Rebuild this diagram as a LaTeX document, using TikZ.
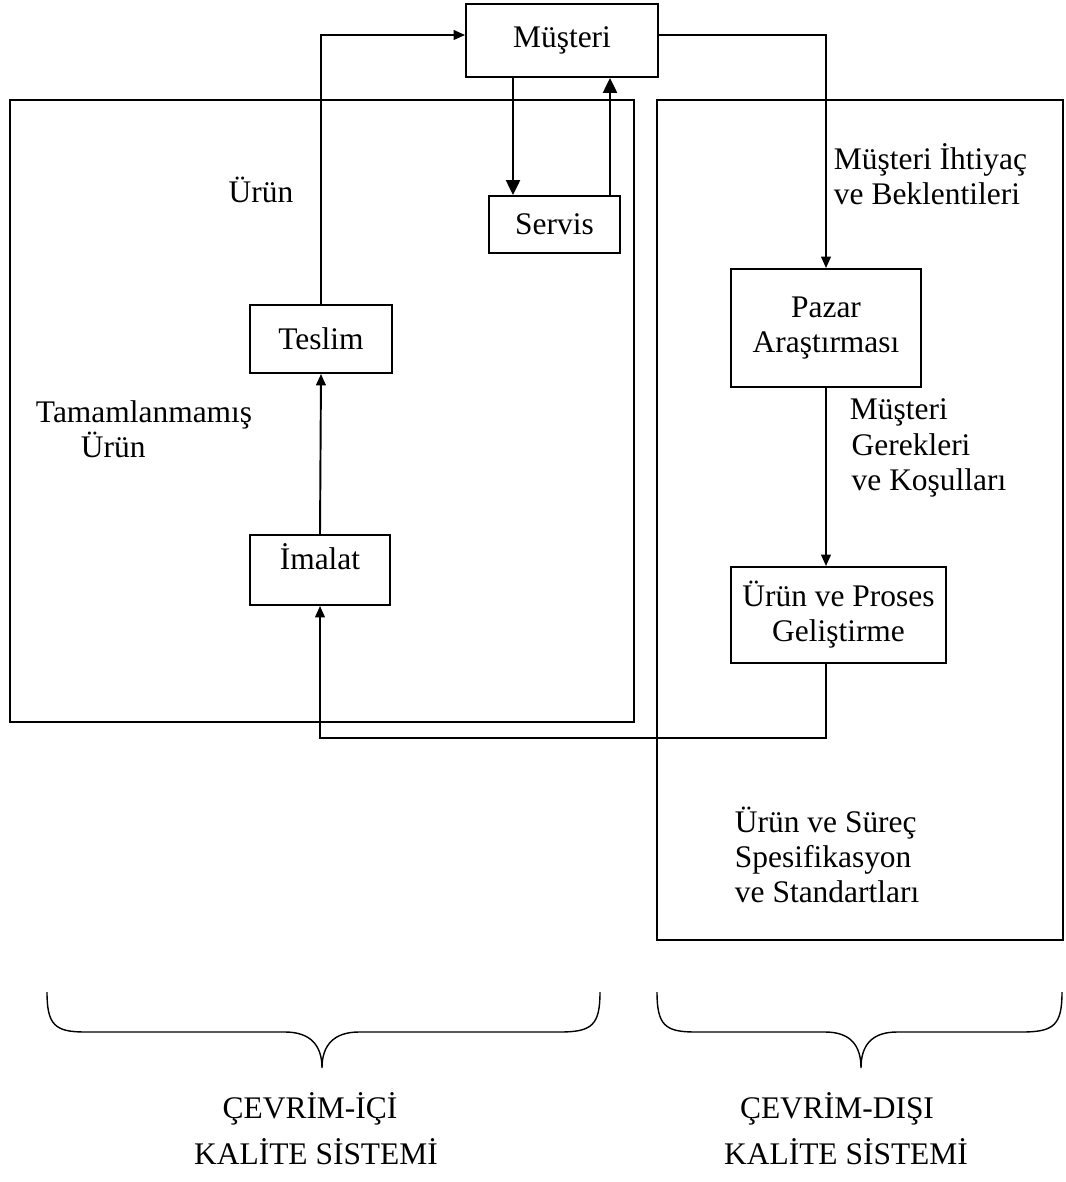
\documentclass[tikz,border=0pt]{standalone}
\usepackage{fontspec}
\setmainfont{Liberation Serif}
\usetikzlibrary{arrows.meta}

\begin{document}
\begin{tikzpicture}[x=0.02cm, y=-0.02cm, >={Triangle[width=5.5pt,length=6.5pt]},
    line width=1.1pt,
    font=\fontsize{17.9}{20}\selectfont,
    box/.style={draw, align=center, inner sep=0pt},
    lbl/.style={inner sep=0pt, align=left},
    big/.style={->, >={Triangle[width=8pt,length=8.5pt]}}]
  \useasboundingbox (0,0) rectangle (1065,1182);

  % Frames of the two systems
  \draw (10,100) rectangle (634,722);
  \draw (657,100) rectangle (1063,940);

  % Boxes
  \node[box, minimum width=3.84cm, minimum height=1.46cm] (musteri) at (562,40.5) {Müşteri};
  \node[box, minimum width=2.62cm, minimum height=1.14cm] (servis) at (554.5,224.5) {Servis};
  \node[box, minimum width=2.84cm, minimum height=1.36cm] (teslim) at (321,339) {Teslim};
  \node[box, minimum width=2.80cm, minimum height=1.40cm, text depth=0.55cm] (imalat) at (320,570) {İmalat};
  \node[box, minimum width=3.80cm, minimum height=2.36cm] (pazar) at (826,328) {Pazar\\Araştırması};
  \node[box, minimum width=4.30cm, minimum height=1.92cm] (urun) at (838.5,615) {Ürün ve Proses\\Geliştirme};

  % Connectors
  \draw[big] (musteri.south -| 513,0) -- (servis.north -| 513,0);
  \draw[big] (servis.north -| 610,0) -- (musteri.south -| 610,0);
  \draw[->] (teslim.north) |- (musteri.west |- 0,35);
  \draw[->] (musteri.east |- 0,35) -| (pazar.north);
  \draw[->] (imalat.north) -- (teslim.south);
  \draw[->] (pazar.south) -- (pazar.south |- urun.north);
  \draw[->] (pazar.south |- urun.south) |- (imalat.south |- 0,738) -- (imalat.south);

  % Labels
  \node[lbl] (urunlbl) at (261,190) {Ürün};
  \node[lbl, anchor=west] (tamam) at (35,429) {Tamamlanmamış\\\hspace*{0.9cm}Ürün};
  \node[lbl, anchor=west] (ihtiyac) at (833,174) {Müşteri İhtiyaç\\ve Beklentileri};
  \node[lbl, anchor=west] (gerek) at (849,448) {Müşteri\\\hspace*{1pt}Gerekleri\\\hspace*{1pt}ve Koşulları};
  \node[lbl, anchor=west] (spec) at (734,855) {Ürün ve Süreç\\Spesifikasyon\\ve Standartları};

  % Braces
  \draw[line width=0.8pt] (47,992) .. controls (47,1025) and (55,1032) .. (85,1032) -- (285,1032)
    .. controls (310,1032) and (322,1045) .. (322,1068)
    .. controls (322,1045) and (334,1032) .. (359,1032) -- (560,1032)
    .. controls (592,1032) and (600,1025) .. (600,992);
  \draw[line width=0.8pt] (657,992) .. controls (657,1025) and (665,1032) .. (695,1032) -- (825,1032)
    .. controls (850,1032) and (861,1045) .. (861,1068)
    .. controls (861,1045) and (872,1032) .. (897,1032) -- (1022,1032)
    .. controls (1054,1032) and (1062,1025) .. (1062,992);

  % System names
  \node[lbl] (online) at (310,1109) {ÇEVRİM-İÇİ};
  \node[lbl] (onlinesys) at (316,1152) {KALİTE SİSTEMİ};
  \node[lbl] (offline) at (837,1109) {ÇEVRİM-DIŞI};
  \node[lbl] (offlinesys) at (846,1152) {KALİTE SİSTEMİ};
\end{tikzpicture}
\end{document}
